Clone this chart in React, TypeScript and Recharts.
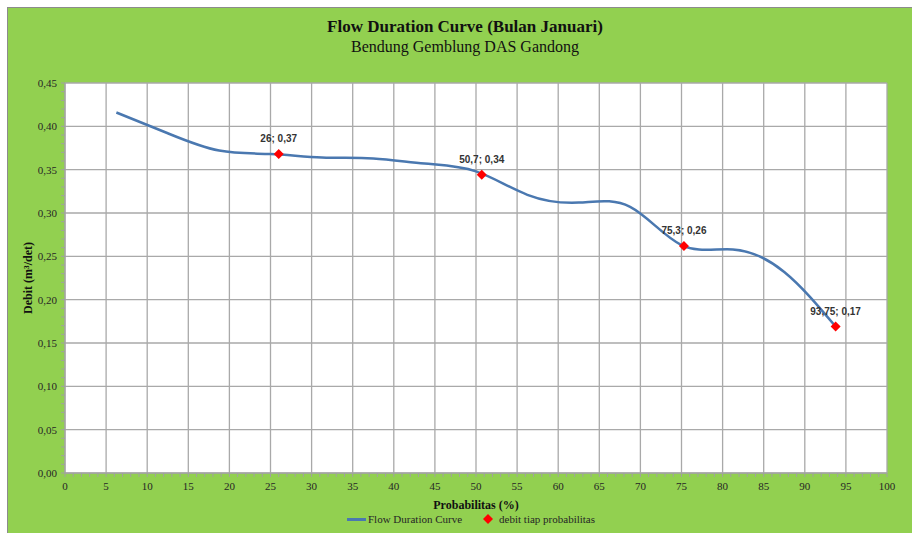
import { ComposedChart, Line, Scatter, XAxis, YAxis, CartesianGrid } from 'recharts'

// kurva durasi aliran, 15 titik (m/(n+1))
const probabilitas = [6.25, 12.5, 18.75, 25, 31.25, 37.5, 43.75, 50, 56.25, 62.5, 68.75, 75, 81.25, 87.5, 93.75]
const debit = [0.416, 0.392, 0.372, 0.368, 0.364, 0.363, 0.357, 0.348, 0.321, 0.312, 0.307, 0.263, 0.258, 0.232, 0.169]

// debit tiap probabilitas
const titikProb = [26, 50.7, 75.3, 93.75]
const titikDebit = [0.368, 0.344, 0.262, 0.169]

const xMajor = [0, 5, 10, 15, 20, 25, 30, 35, 40, 45, 50, 55, 60, 65, 70, 75, 80, 85, 90, 95, 100]
const xMinor = Array.from({ length: 101 }, (_, i) => i)
const yMajor = [0, 0.05, 0.1, 0.15, 0.2, 0.25, 0.3, 0.35, 0.4, 0.45]
const yMinor = Array.from({ length: 46 }, (_, i) => i / 100)

const fdc = probabilitas.map((p, i) => ({ x: p, y: debit[i] }))
const titik = titikProb.map((p, i) => ({ x: p, y: titikDebit[i] }))

const koma = (v: number | string) => String(v).replace('.', ',')
const serif = '"Liberation Serif", "Times New Roman", serif'
const hijau = '#92d050'
const biru = '#4a78b0'

const XTick = (props: any) => {
  const { x, y, payload } = props
  if (payload.value % 5 !== 0) return <g />
  return (
    <text x={x} y={y} dy="0.71em" textAnchor="middle" fontFamily={serif} fontSize={11} fill="#262626">
      {payload.value}
    </text>
  )
}

const YTick = (props: any) => {
  const { x, y, payload } = props
  if (Math.round(payload.value * 100) % 5 !== 0) return <g />
  return (
    <text x={x} y={y} dy="0.35em" textAnchor="end" fontFamily={serif} fontSize={11} fill="#262626">
      {koma(payload.value.toFixed(2))}
    </text>
  )
}

const Diamond = (props: any) => {
  const { cx, cy, payload } = props
  const r = 5
  return (
    <g>
      <polygon points={`${cx},${cy - r} ${cx + r},${cy} ${cx},${cy + r} ${cx - r},${cy}`} fill="#ff0000" />
      <text
        x={cx}
        y={cy - 12}
        textAnchor="middle"
        fontFamily='"Liberation Sans", Arial, sans-serif'
        fontSize={10}
        fontWeight={600}
        fill="#333"
      >
        {`${koma(payload.x)}; ${koma(payload.y.toFixed(2))}`}
      </text>
    </g>
  )
}

export default function App() {
  return (
    <div style={{ position: 'absolute', left: 0, top: 0, width: 912, height: 533, background: '#fff', overflow: 'hidden' }}>
      <div
        style={{
          position: 'absolute',
          left: 7,
          top: 7,
          right: 0,
          bottom: 0,
          background: hijau,
          borderTop: '1.5px solid #8c8c8c',
          borderLeft: '1.5px solid #8c8c8c',
        }}
      />
      <div style={{ position: 'absolute', left: 0, width: 930, top: 16, textAlign: 'center', fontFamily: serif, color: '#111' }}>
        <div style={{ fontSize: 17, fontWeight: 700, lineHeight: '21px' }}>Flow Duration Curve (Bulan Januari)</div>
        <div style={{ fontSize: 16, lineHeight: '20px' }}>Bendung Gemblung DAS Gandong</div>
      </div>
      <ComposedChart
        width={912}
        height={533}
        margin={{ top: 83, right: 25, left: 15, bottom: 30 }}
        style={{ position: 'absolute', left: 0, top: 0 }}
      >
        <CartesianGrid
          fill="#fff"
          stroke="#a9a9a9"
          strokeWidth={1.3}
          horizontalValues={yMajor}
          verticalValues={xMajor}
        />
        <XAxis
          type="number"
          dataKey="x"
          domain={[0, 100]}
          ticks={xMinor}
          interval={0}
          height={30}
          tickSize={4}
          tickMargin={5}
          tick={<XTick />}
          stroke="#a0a0a0"
          label={{
            value: 'Probabilitas (%)',
            position: 'bottom',
            offset: -3,
            fontFamily: serif,
            fontSize: 12,
            fontWeight: 700,
            fill: '#111',
          }}
        />
        <YAxis
          type="number"
          dataKey="y"
          domain={[0, 0.45]}
          ticks={yMinor}
          interval={0}
          width={50}
          tickSize={4}
          tickMargin={4}
          tick={<YTick />}
          stroke="#a0a0a0"
          label={{
            value: 'Debit (m³/det)',
            angle: -90,
            position: 'insideLeft',
            offset: 13,
            fontFamily: serif,
            fontSize: 12,
            fontWeight: 700,
            fill: '#111',
            style: { textAnchor: 'middle' },
          }}
        />
        <Line
          data={fdc}
          dataKey="y"
          type="natural"
          stroke={biru}
          strokeWidth={2.5}
          dot={false}
          activeDot={false}
          isAnimationActive={false}
        />
        <Scatter data={titik} dataKey="y" shape={<Diamond />} isAnimationActive={false} />
      </ComposedChart>
      <div
        style={{
          position: 'absolute',
          left: 347,
          top: 513,
          display: 'flex',
          alignItems: 'center',
          fontFamily: serif,
          fontSize: 11,
          color: '#262626',
          whiteSpace: 'nowrap',
        }}
      >
        <div style={{ width: 19, height: 3, background: biru, marginRight: 2 }} />
        <span>Flow Duration Curve</span>
        <svg width={12} height={12} style={{ marginLeft: 20, marginRight: 5 }}>
          <polygon points="6,1 11,6 6,11 1,6" fill="#ff0000" />
        </svg>
        <span>debit tiap probabilitas</span>
      </div>
    </div>
  )
}
